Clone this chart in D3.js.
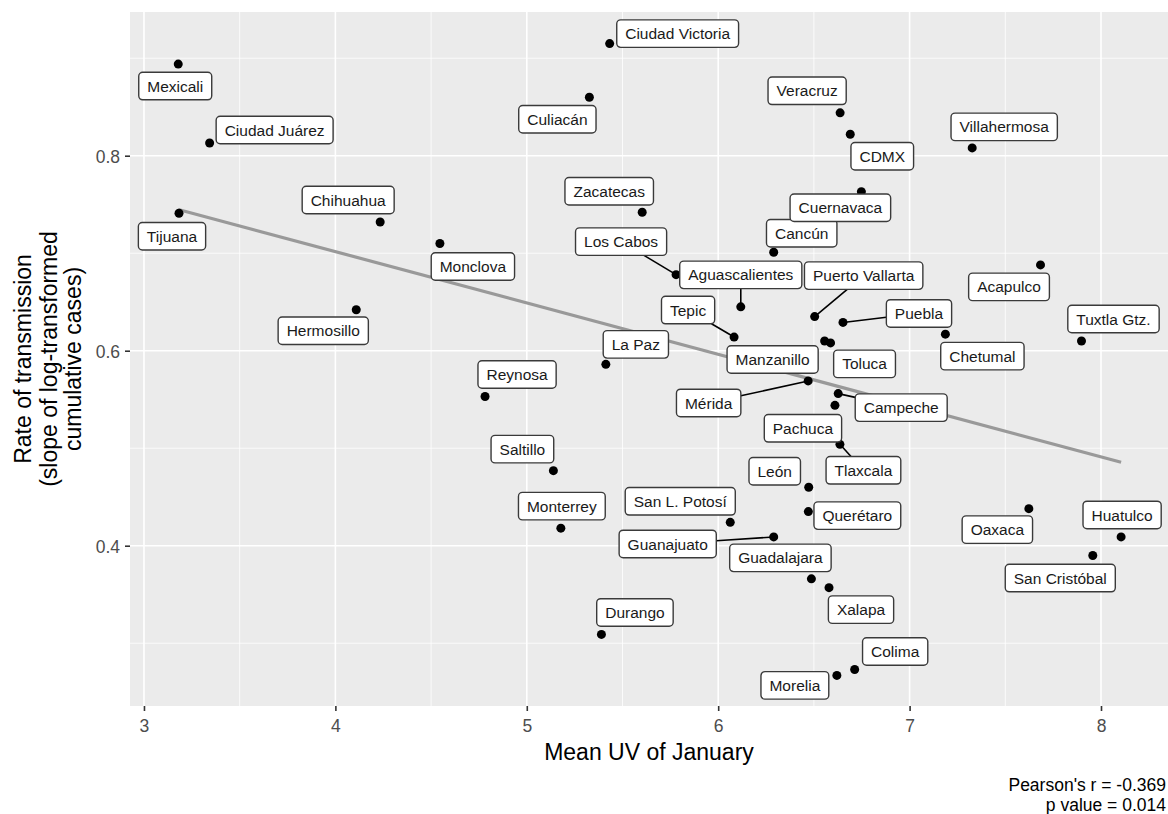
<!DOCTYPE html>
<html>
<head>
<meta charset="utf-8">
<script src="https://cdn.jsdelivr.net/npm/d3@7"></script>
<style>
  body { margin: 0; background: #ffffff; }
  text { font-family: "Liberation Sans", Arial, Helvetica, sans-serif; }
</style>
</head>
<body>
<svg id="chart" width="1168" height="814"></svg>
<script>
// ---- data ---------------------------------------------------------------
const cities = [
  "Mexicali", "Ciudad Juárez", "Tijuana", "Chihuahua", "Hermosillo", "Monclova",
  "Ciudad Victoria", "Culiacán", "Zacatecas", "Los Cabos", "Aguascalientes", "Cancún",
  "Cuernavaca", "Veracruz", "CDMX", "Villahermosa", "Acapulco", "Puerto Vallarta",
  "Puebla", "Tepic", "Manzanillo", "Toluca", "La Paz", "Chetumal", "Tuxtla Gtz.",
  "Reynosa", "Mérida", "Campeche", "Pachuca", "Tlaxcala", "Saltillo", "León",
  "Querétaro", "San L. Potosí", "Monterrey", "Guanajuato", "Oaxaca", "Huatulco",
  "San Cristóbal", "Guadalajara", "Xalapa", "Durango", "Colima", "Morelia"
];
const uvJanuary = [
  3.179, 3.343, 3.183, 4.234, 4.109, 4.546,
  5.433, 5.327, 5.603, 5.780, 6.118, 6.290,
  6.748, 6.637, 6.690, 7.327, 7.684, 6.504,
  6.652, 6.083, 6.556, 6.587, 5.413, 7.187, 7.898,
  4.782, 6.470, 6.627, 6.610, 6.636, 5.139, 6.473,
  6.471, 6.063, 5.178, 6.290, 7.623, 8.105,
  7.957, 6.487, 6.579, 5.390, 6.713, 6.620
];
const transmissionRate = [
  0.894, 0.813, 0.741, 0.732, 0.642, 0.710,
  0.915, 0.860, 0.742, 0.678, 0.645, 0.701,
  0.763, 0.844, 0.822, 0.808, 0.688, 0.635,
  0.629, 0.614, 0.610, 0.608, 0.586, 0.617, 0.610,
  0.553, 0.569, 0.556, 0.544, 0.504, 0.477, 0.460,
  0.435, 0.424, 0.418, 0.409, 0.438, 0.409,
  0.390, 0.366, 0.357, 0.309, 0.273, 0.267
];
const xTicks = [3, 4, 5, 6, 7, 8];
const xMinorTicks = [3.5, 4.5, 5.5, 6.5, 7.5];
const yTicks = [0.4, 0.6, 0.8];
const yMinorTicks = [0.3, 0.5, 0.7, 0.9];
const xTitle = "Mean UV of January";
const yTitleLines = ["Rate of transmission", "(slope of log-transformed", "cumulative cases)"];
const statLines = ["Pearson's r = -0.369", "p value = 0.014"];

// ---- label layout (box-centre offset from its point, px) -----------------
const labelOffset = {
  "Mexicali": [-3, 22], "Ciudad Juárez": [65, -13], "Tijuana": [-7, 23],
  "Chihuahua": [-32, -22], "Hermosillo": [-33, 21], "Monclova": [33, 23],
  "Ciudad Victoria": [68, -10], "Culiacán": [-32, 22], "Zacatecas": [-33, -21],
  "Los Cabos": [-55, -33], "Aguascalientes": [0, -32], "Cancún": [28, -19],
  "Cuernavaca": [-21, 16], "Veracruz": [-33, -22], "CDMX": [32, 22],
  "Villahermosa": [32, -21], "Acapulco": [-31.5, 22], "Puerto Vallarta": [49, -41],
  "Puebla": [76, -9], "Tepic": [-46, -27], "Manzanillo": [-52, 18.5],
  "Toluca": [34, 21], "La Paz": [30, -20], "Chetumal": [37, 22],
  "Tuxtla Gtz.": [32, -22], "Reynosa": [32, -22], "Mérida": [-99.5, 22],
  "Campeche": [63, 14], "Pachuca": [-32, 23], "Tlaxcala": [23.5, 26],
  "Saltillo": [-31, -21.5], "León": [-34, -16], "Querétaro": [49, 4],
  "San L. Potosí": [-50, -21], "Monterrey": [1, -22], "Guanajuato": [-106, 7],
  "Oaxaca": [-31.5, 21], "Huatulco": [1, -22], "San Cristóbal": [-32.5, 22.6],
  "Guadalajara": [-31, -21], "Xalapa": [32, 22], "Durango": [33.5, -22],
  "Colima": [40.5, -18], "Morelia": [-42, 10]
};

// ---- frame ---------------------------------------------------------------
const svg = d3.select("#chart");
const panel = { left: 130, right: 1168, top: 12, bottom: 706 };

const x = d3.scaleLinear().domain([2.927, 8.35]).range([panel.left, panel.right]);
const y = d3.scaleLinear().domain([0.2356, 0.9474]).range([panel.bottom, panel.top]);

svg.append("rect")
  .attr("x", panel.left).attr("y", panel.top)
  .attr("width", panel.right - panel.left).attr("height", panel.bottom - panel.top)
  .attr("fill", "#ebebeb");

const grid = svg.append("g");
grid.selectAll(".xminor").data(xMinorTicks).join("line")
  .attr("x1", d => x(d)).attr("x2", d => x(d))
  .attr("y1", panel.top).attr("y2", panel.bottom)
  .attr("stroke", "#ffffff").attr("stroke-width", 0.8);
grid.selectAll(".yminor").data(yMinorTicks).join("line")
  .attr("y1", d => y(d)).attr("y2", d => y(d))
  .attr("x1", panel.left).attr("x2", panel.right)
  .attr("stroke", "#ffffff").attr("stroke-width", 0.8);
grid.selectAll(".xmajor").data(xTicks).join("line")
  .attr("x1", d => x(d)).attr("x2", d => x(d))
  .attr("y1", panel.top).attr("y2", panel.bottom)
  .attr("stroke", "#ffffff").attr("stroke-width", 1.6);
grid.selectAll(".ymajor").data(yTicks).join("line")
  .attr("y1", d => y(d)).attr("y2", d => y(d))
  .attr("x1", panel.left).attr("x2", panel.right)
  .attr("stroke", "#ffffff").attr("stroke-width", 1.6);

// ---- axes ----------------------------------------------------------------
const xAxis = svg.append("g")
  .attr("transform", `translate(0,${panel.bottom})`)
  .call(d3.axisBottom(x).tickValues(xTicks).tickFormat(d3.format("d")).tickSize(5).tickPadding(4));
const yAxis = svg.append("g")
  .attr("transform", `translate(${panel.left},0)`)
  .call(d3.axisLeft(y).tickValues(yTicks).tickFormat(d3.format(".1f")).tickSize(5).tickPadding(5));
[xAxis, yAxis].forEach(a => {
  a.select(".domain").remove();
  a.selectAll(".tick line").attr("stroke", "#333333").attr("stroke-width", 1.6);
  a.selectAll(".tick text").attr("fill", "#4d4d4d").style("font-size", "17.5px")
    .style("font-family", '"Liberation Sans", Arial, sans-serif');
});
xAxis.selectAll(".tick text").attr("dy", "0.95em");
yAxis.selectAll(".tick text").attr("dy", "0.36em");

svg.append("text")
  .attr("x", (panel.left + panel.right) / 2).attr("y", 760)
  .attr("text-anchor", "middle").attr("fill", "#000")
  .style("font-size", "23px").text(xTitle);

const yTitleBaselines = [31, 57, 81];
yTitleLines.forEach((line, i) => {
  svg.append("text")
    .attr("transform", `translate(${yTitleBaselines[i]},${(panel.top + panel.bottom) / 2}) rotate(-90)`)
    .attr("text-anchor", "middle").attr("fill", "#000")
    .style("font-size", "23px").text(line);
});

// ---- least-squares fit line ------------------------------------------------
const n = uvJanuary.length;
const mx = d3.mean(uvJanuary), my = d3.mean(transmissionRate);
let sxy = 0, sxx = 0;
for (let i = 0; i < n; i++) {
  sxy += (uvJanuary[i] - mx) * (transmissionRate[i] - my);
  sxx += (uvJanuary[i] - mx) ** 2;
}
const slope = sxy / sxx, intercept = my - slope * mx;
const [xMin, xMax] = d3.extent(uvJanuary);
svg.append("line")
  .attr("x1", x(xMin)).attr("y1", y(intercept + slope * xMin))
  .attr("x2", x(xMax)).attr("y2", y(intercept + slope * xMax))
  .attr("stroke", "#999999").attr("stroke-width", 3.2);

// ---- points & repelled labels -------------------------------------------
const pts = cities.map((c, i) => ({ name: c, px: x(uvJanuary[i]), py: y(transmissionRate[i]) }));

const segLayer = svg.append("g");
const dotLayer = svg.append("g");
const labelLayer = svg.append("g");

dotLayer.selectAll("circle").data(pts).join("circle")
  .attr("cx", d => d.px).attr("cy", d => d.py).attr("r", 4.5).attr("fill", "#000");

const boxH = 27.5, padX = 8.5;
pts.forEach(d => {
  const [dx, dy] = labelOffset[d.name];
  const cx = d.px + dx, cy = d.py + dy;
  const g = labelLayer.append("g");
  const rect = g.append("rect");
  const t = g.append("text")
    .attr("x", cx).attr("y", cy).attr("dy", "0.36em")
    .attr("text-anchor", "middle").attr("fill", "#1a1a1a")
    .style("font-size", "15.5px").text(d.name);
  const w = t.node().getComputedTextLength() + 2 * padX;
  const bx0 = cx - w / 2, bx1 = cx + w / 2, by0 = cy - boxH / 2, by1 = cy + boxH / 2;
  rect.attr("x", bx0).attr("y", by0).attr("width", w).attr("height", boxH)
    .attr("rx", 4).attr("fill", "#ffffff").attr("stroke", "#3a3a3a").attr("stroke-width", 1.4);

  // leader segment from the point toward the box centre, clipped at the box edge
  const gx = Math.max(bx0 - d.px, 0, d.px - bx1);
  const gy = Math.max(by0 - d.py, 0, d.py - by1);
  if (Math.hypot(gx, gy) > 10.5) {
    const vx = cx - d.px, vy = cy - d.py;
    let tEnd = 1;
    if (vx !== 0) {
      const edgeX = vx > 0 ? bx0 : bx1;
      const tx = (edgeX - d.px) / vx;
      const yy = d.py + tx * vy;
      if (tx > 0 && tx < tEnd && yy >= by0 && yy <= by1) tEnd = tx;
    }
    if (vy !== 0) {
      const edgeY = vy > 0 ? by0 : by1;
      const ty = (edgeY - d.py) / vy;
      const xx = d.px + ty * vx;
      if (ty > 0 && ty < tEnd && xx >= bx0 && xx <= bx1) tEnd = ty;
    }
    segLayer.append("line")
      .attr("x1", d.px).attr("y1", d.py)
      .attr("x2", d.px + tEnd * vx).attr("y2", d.py + tEnd * vy)
      .attr("stroke", "#000").attr("stroke-width", 1.6);
  }
});

// ---- correlation note ----------------------------------------------------
statLines.forEach((s, i) => {
  svg.append("text")
    .attr("x", 1166).attr("y", 791 + i * 20)
    .attr("text-anchor", "end").attr("fill", "#000")
    .style("font-size", "17.5px").text(s);
});
</script>
</body>
</html>
